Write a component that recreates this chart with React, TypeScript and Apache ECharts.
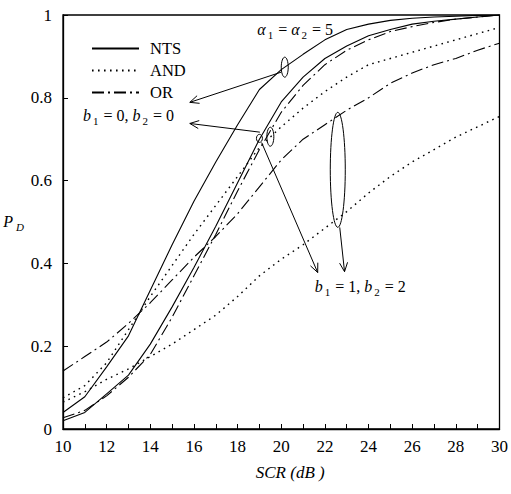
import React, { useEffect, useRef } from "react";
import * as echarts from "echarts";

const scr = [10, 11, 12, 13, 14, 15, 16, 17, 18, 19, 20, 21, 22, 23, 24, 25, 26, 27, 28, 29, 30];

// b1 = 0, b2 = 0
const ntsB0 = [0.04, 0.078, 0.15, 0.225, 0.335, 0.445, 0.55, 0.645, 0.735, 0.82, 0.868, 0.905, 0.94, 0.965, 0.978, 0.987, 0.992, 0.995, 0.997, 0.999, 1];
const andB0 = [0.075, 0.105, 0.16, 0.24, 0.32, 0.395, 0.47, 0.54, 0.61, 0.68, 0.73, 0.775, 0.815, 0.85, 0.88, 0.895, 0.91, 0.925, 0.94, 0.955, 0.97];
const orB0 = [0.14, 0.175, 0.21, 0.255, 0.305, 0.36, 0.415, 0.465, 0.52, 0.585, 0.65, 0.7, 0.735, 0.77, 0.8, 0.835, 0.86, 0.88, 0.895, 0.915, 0.932];

// b1 = 1, b2 = 2
const ntsB12 = [0.02, 0.04, 0.085, 0.13, 0.205, 0.295, 0.39, 0.49, 0.595, 0.7, 0.79, 0.85, 0.895, 0.925, 0.95, 0.965, 0.978, 0.985, 0.99, 0.995, 1];
const andB12 = [0.065, 0.09, 0.12, 0.145, 0.175, 0.205, 0.24, 0.275, 0.32, 0.37, 0.41, 0.445, 0.485, 0.525, 0.57, 0.61, 0.645, 0.675, 0.705, 0.73, 0.755];
const orB12 = [0.027, 0.045, 0.08, 0.125, 0.18, 0.27, 0.37, 0.47, 0.575, 0.675, 0.765, 0.83, 0.88, 0.915, 0.94, 0.96, 0.972, 0.982, 0.99, 0.995, 1];

const legendNames = ["NTS", "AND", "OR"];
const yTickLabels = ["0", "0.2", "0.4", "0.6", "0.8", "1"];

const FONT = "Liberation Serif";
const DOTTED = [1.6, 4.4];
const DASHDOT = [12, 4, 2, 4];

function pairs(ys: number[]) {
  return scr.map((x, i) => [x, ys[i]]);
}

function lineSeries(name: string, ys: number[], type: any) {
  return {
    type: "line",
    name,
    data: pairs(ys),
    showSymbol: false,
    symbol: "none",
    silent: true,
    lineStyle: { color: "#000", width: type === DOTTED ? 1.4 : 1.1, type },
    itemStyle: { color: "#000" },
  };
}

const richText = {
  n: { fontFamily: FONT, fontSize: 16, color: "#000", verticalAlign: "top", lineHeight: 18 },
  i: { fontFamily: FONT, fontSize: 16, fontStyle: "italic", color: "#000", verticalAlign: "top", lineHeight: 18 },
  s: { fontFamily: FONT, fontSize: 11, color: "#000", verticalAlign: "top", lineHeight: 11, padding: [8, 1, 0, 2] },
  si: { fontFamily: FONT, fontSize: 11, fontStyle: "italic", color: "#000", verticalAlign: "top", lineHeight: 11, padding: [8, 1, 0, 3] },
};

export default function App() {
  const ref = useRef<HTMLDivElement>(null);

  useEffect(() => {
    const chart = echarts.init(ref.current!, null, { renderer: "svg" });
    chart.setOption({
      animation: false,
      backgroundColor: "#fff",
      grid: { left: 63, right: 11, top: 15, bottom: 65, show: true, borderColor: "#000", borderWidth: 1.3, backgroundColor: "transparent" },
      legend: {
        data: legendNames,
        orient: "vertical",
        left: 86,
        top: 35,
        itemWidth: 47,
        itemHeight: 14,
        itemGap: 5,
        selectedMode: false,
        itemStyle: { opacity: 0, borderWidth: 0 },
        textStyle: { fontFamily: FONT, fontSize: 16.5, color: "#000", padding: [0, 0, 0, 6] },
      },
      xAxis: {
        type: "value",
        min: 10,
        max: 30,
        interval: 1,
        name: "SCR (dB )",
        nameLocation: "middle",
        nameGap: 35,
        nameTextStyle: { fontFamily: FONT, fontSize: 17, fontStyle: "italic", color: "#000", padding: [0, 0, 0, 18] },
        axisLine: { show: true, lineStyle: { color: "#000", width: 1.3 } },
        axisTick: { show: true, inside: true, length: 5, lineStyle: { color: "#000" } },
        axisLabel: {
          margin: 9,
          fontFamily: FONT,
          fontSize: 17,
          color: "#000",
          formatter: (v: number) => (v % 2 === 0 ? String(v) : ""),
        },
        splitLine: { show: false },
      },
      yAxis: {
        type: "value",
        min: 0,
        max: 1,
        interval: 0.2,
        name: "{i|P}{si|D}",
        nameLocation: "middle",
        nameRotate: 0,
        nameGap: 32,
        nameTextStyle: { rich: richText },
        axisLine: { show: true, lineStyle: { color: "#000", width: 1.3 } },
        axisTick: { show: true, inside: true, length: 5, lineStyle: { color: "#000" } },
        axisLabel: {
          margin: 11,
          fontFamily: FONT,
          fontSize: 17,
          color: "#000",
          formatter: (v: number) => yTickLabels[Math.round(v * 5)],
        },
        splitLine: { show: false },
      },
      series: [
        lineSeries("NTS", ntsB0, "solid"),
        lineSeries("AND", andB0, DOTTED),
        lineSeries("OR", orB0, DASHDOT),
        lineSeries("NTS", ntsB12, "solid"),
        lineSeries("AND", andB12, DOTTED),
        lineSeries("OR", orB12, DASHDOT),
      ],
    });

    const px = (x: number, y: number) => chart.convertToPixel({ seriesIndex: 0 }, [x, y]) as number[];
    const stroke = { stroke: "#000", lineWidth: 1, fill: "none" as any };

    const arrow = (a: number[], b: number[]) => {
      const from = px(a[0], a[1]);
      const to = px(b[0], b[1]);
      const dx = to[0] - from[0];
      const dy = to[1] - from[1];
      const len = Math.hypot(dx, dy);
      const ux = dx / len;
      const uy = dy / len;
      const L = 9;
      const W = 4;
      const bx = to[0] - ux * L;
      const by = to[1] - uy * L;
      return [
        { type: "line", shape: { x1: from[0], y1: from[1], x2: to[0], y2: to[1] }, style: { ...stroke } },
        {
          type: "polyline",
          shape: { points: [[bx - uy * W, by + ux * W], to, [bx + uy * W, by - ux * W]] },
          style: { ...stroke },
        },
      ];
    };

    const ellipse = (c: number[], rx: number, ry: number) => {
      const p = px(c[0], c[1]);
      return { type: "ellipse", shape: { cx: p[0], cy: p[1], rx, ry }, style: { ...stroke } };
    };

    const label = (c: number[], text: string) => {
      const p = px(c[0], c[1]);
      return {
        type: "text",
        x: p[0],
        y: p[1],
        style: { text, rich: richText, align: "left", verticalAlign: "middle" },
      };
    };

    const graphic: any[] = [
      label([18.9, 0.962], "{i|α}{s|1}{n| = }{i|α}{s|2}{n| = 5}"),
      label([10.92, 0.755], "{i|b}{s|1}{n| = 0, }{i|b}{s|2}{n| = 0}"),
      label([21.53, 0.341], "{i|b}{s|1}{n| = 1, }{i|b}{s|2}{n| = 2}"),
      ellipse([20.16, 0.874], 3.5, 10),
      ellipse([19.0, 0.702], 3, 4),
      ellipse([19.5, 0.706], 3.5, 9.5),
      ellipse([22.59, 0.626], 7.5, 57.5),
      ...arrow([20.0, 0.862], [15.81, 0.789]),
      ...arrow([19.02, 0.717], [15.81, 0.738]),
      ...arrow([19.1, 0.692], [21.67, 0.378]),
      ...arrow([22.68, 0.487], [22.9, 0.38]),
    ];

    chart.setOption({ graphic });

    return () => chart.dispose();
  }, []);

  return <div ref={ref} style={{ position: "fixed", left: 0, top: 0, width: 511, height: 494, background: "#fff" }} />;
}
